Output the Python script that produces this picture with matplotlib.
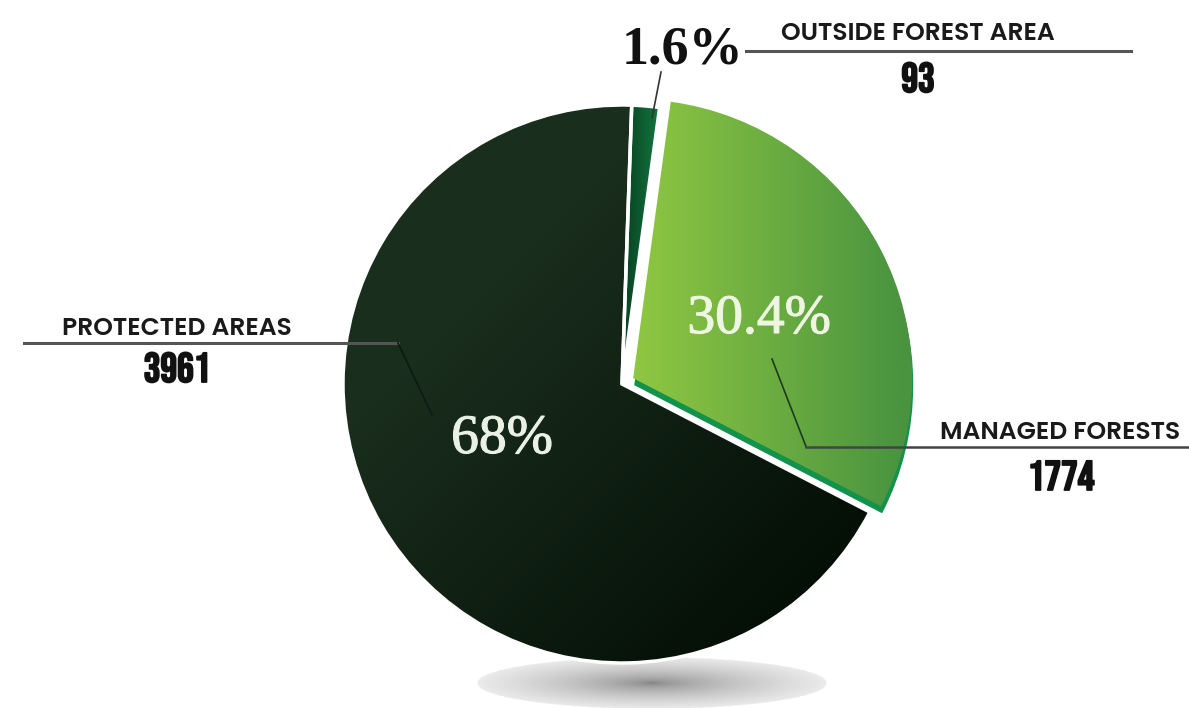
import numpy as np
import matplotlib
matplotlib.use("Agg")
import matplotlib.pyplot as plt
import matplotlib.patheffects as pe
from matplotlib.colors import to_rgb
from matplotlib.patches import Wedge

W, H = 1189, 708

# data
labels = ["OUTSIDE FOREST AREA", "MANAGED FORESTS", "PROTECTED AREAS"]
values = [93, 1774, 3961]
percents = ["1.6%", "30.4%", "68%"]
explode = [0, 0.045, 0]

LABEL_FONT = ["Poppins", "Inter", "DejaVu Sans"]
NUM_FONT = ["Bebas Neue", "Oswald", "Anton", "DejaVu Sans"]
SERIF = ["Liberation Serif", "DejaVu Serif"]

fig = plt.figure(figsize=(W / 100, H / 100), dpi=100)

# background axes in pixel coords (y down), used for the soft shadow
base = fig.add_axes([0, 0, 1, 1], zorder=0)
sx, sy, sa, sb = 652, 683, 175, 26
gx, gy = np.meshgrid(np.linspace(sx - sa, sx + sa, 400), np.linspace(sy - sb, sy + sb, 90))
r = np.sqrt(((gx - sx) / sa) ** 2 + ((gy - sy) / sb) ** 2)
shade = np.clip(0.50 + 0.42 * r ** 0.6, 0, 1)
rgba = np.dstack([shade, shade, shade, (r <= 1).astype(float)])
base.imshow(rgba, extent=(sx - sa, sx + sa, sy + sb, sy - sb), aspect="auto",
            interpolation="bilinear")
base.set_xlim(0, W)
base.set_ylim(H, 0)
base.axis("off")

# pie axes, square box around the pie centre
cx, cy, R = 622, 384, 279
L = 1.2
pie_ax = fig.add_axes([(cx - L * R) / W, 1 - (cy + L * R) / H, 2 * L * R / W, 2 * L * R / H],
                      zorder=1)
wedges, _ = pie_ax.pie(values, startangle=88, counterclock=False, explode=explode,
                       radius=1, wedgeprops=dict(edgecolor="white", linewidth=2.5))
pie_ax.set_xlim(-L, L)
pie_ax.set_ylim(-L, L)
pie_ax.set_aspect("auto")
pie_ax.axis("off")

g = np.linspace(-L, L, 700)
X, Y = np.meshgrid(g, g[::-1])


def gradient(t, c0, c1):
    t = np.clip(t, 0, 1)[..., None]
    return (1 - t) * np.array(to_rgb(c0)) + t * np.array(to_rgb(c1))


fills = [
    gradient((X - 0.02) / 0.12, "#0a4826", "#13793f"),
    gradient((X - 0.05) / 0.95, "#8fc742", "#4a9440"),
    gradient((X - Y + 0.8) / 2.4, "#1a2e1d", "#020c04"),
]

# darker rim under the managed forests slice
mw = wedges[1]
band = Wedge((mw.center[0] + 0.004, mw.center[1] - 0.025), mw.r, mw.theta1, mw.theta2,
             facecolor="#12924a", edgecolor="none", zorder=0.5)
pie_ax.add_patch(band)

for w, img in zip(wedges, fills):
    im = pie_ax.imshow(img, extent=(-L, L, -L, L), aspect="auto", zorder=2,
                       interpolation="bilinear")
    im.set_clip_path(w)
    w.set_facecolor("none")
    w.set_zorder(3)
mw.set_edgecolor("none")
pie_ax.set_xlim(-L, L)
pie_ax.set_ylim(-L, L)

# overlay for labels and leader lines, pixel coords
top = fig.add_axes([0, 0, 1, 1], zorder=2)
top.set_xlim(0, W)
top.set_ylim(H, 0)
top.axis("off")
top.patch.set_visible(False)

# leader lines
top.plot([661, 652], [72, 118], color="#333333", lw=1.2)
top.plot([746, 1131], [51, 51], color="#555555", lw=2.2)
top.plot([772, 806], [359, 446.5], color="#1f3a1f", lw=1.2)
top.plot([806, 1189], [446.5, 446.5], color="#444444", lw=1.8)
top.plot([24, 398], [343, 343], color="#555555", lw=2.2)
top.plot([398, 432], [343, 415], color="#0c1a0e", lw=1.2)

# category names and counts
heavy = [pe.withStroke(linewidth=1.3, foreground="#111111")]
name_pos = [(918, 40), (1060, 439), (177, 335)]
count_pos = [(918, 92), (1061, 490), (177, 382)]
for lab, val, (nx, ny), (vx, vy) in zip(labels, values, name_pos, count_pos):
    top.text(nx, ny, lab, ha="center", va="baseline", fontsize=18,
             fontweight="semibold", family=LABEL_FONT, color="#1a1a1a")
    top.text(vx, vy, str(val), ha="center", va="baseline", fontsize=30,
             fontweight="bold", family=NUM_FONT, color="#111111", path_effects=heavy)

# percentages
top.text(682, 63, percents[0], ha="center", va="baseline", fontsize=39,
         fontweight="bold", family=SERIF, color="#111111")
top.text(759, 333, percents[1], ha="center", va="baseline", fontsize=40,
         family=SERIF, color="#eef6e2",
         path_effects=[pe.withStroke(linewidth=0.8, foreground="#eef6e2")])
top.text(502, 453, percents[2], ha="center", va="baseline", fontsize=40,
         family=SERIF, color="#e9f1e4",
         path_effects=[pe.withStroke(linewidth=0.8, foreground="#e9f1e4")])

fig.savefig("out.png", dpi=100)
